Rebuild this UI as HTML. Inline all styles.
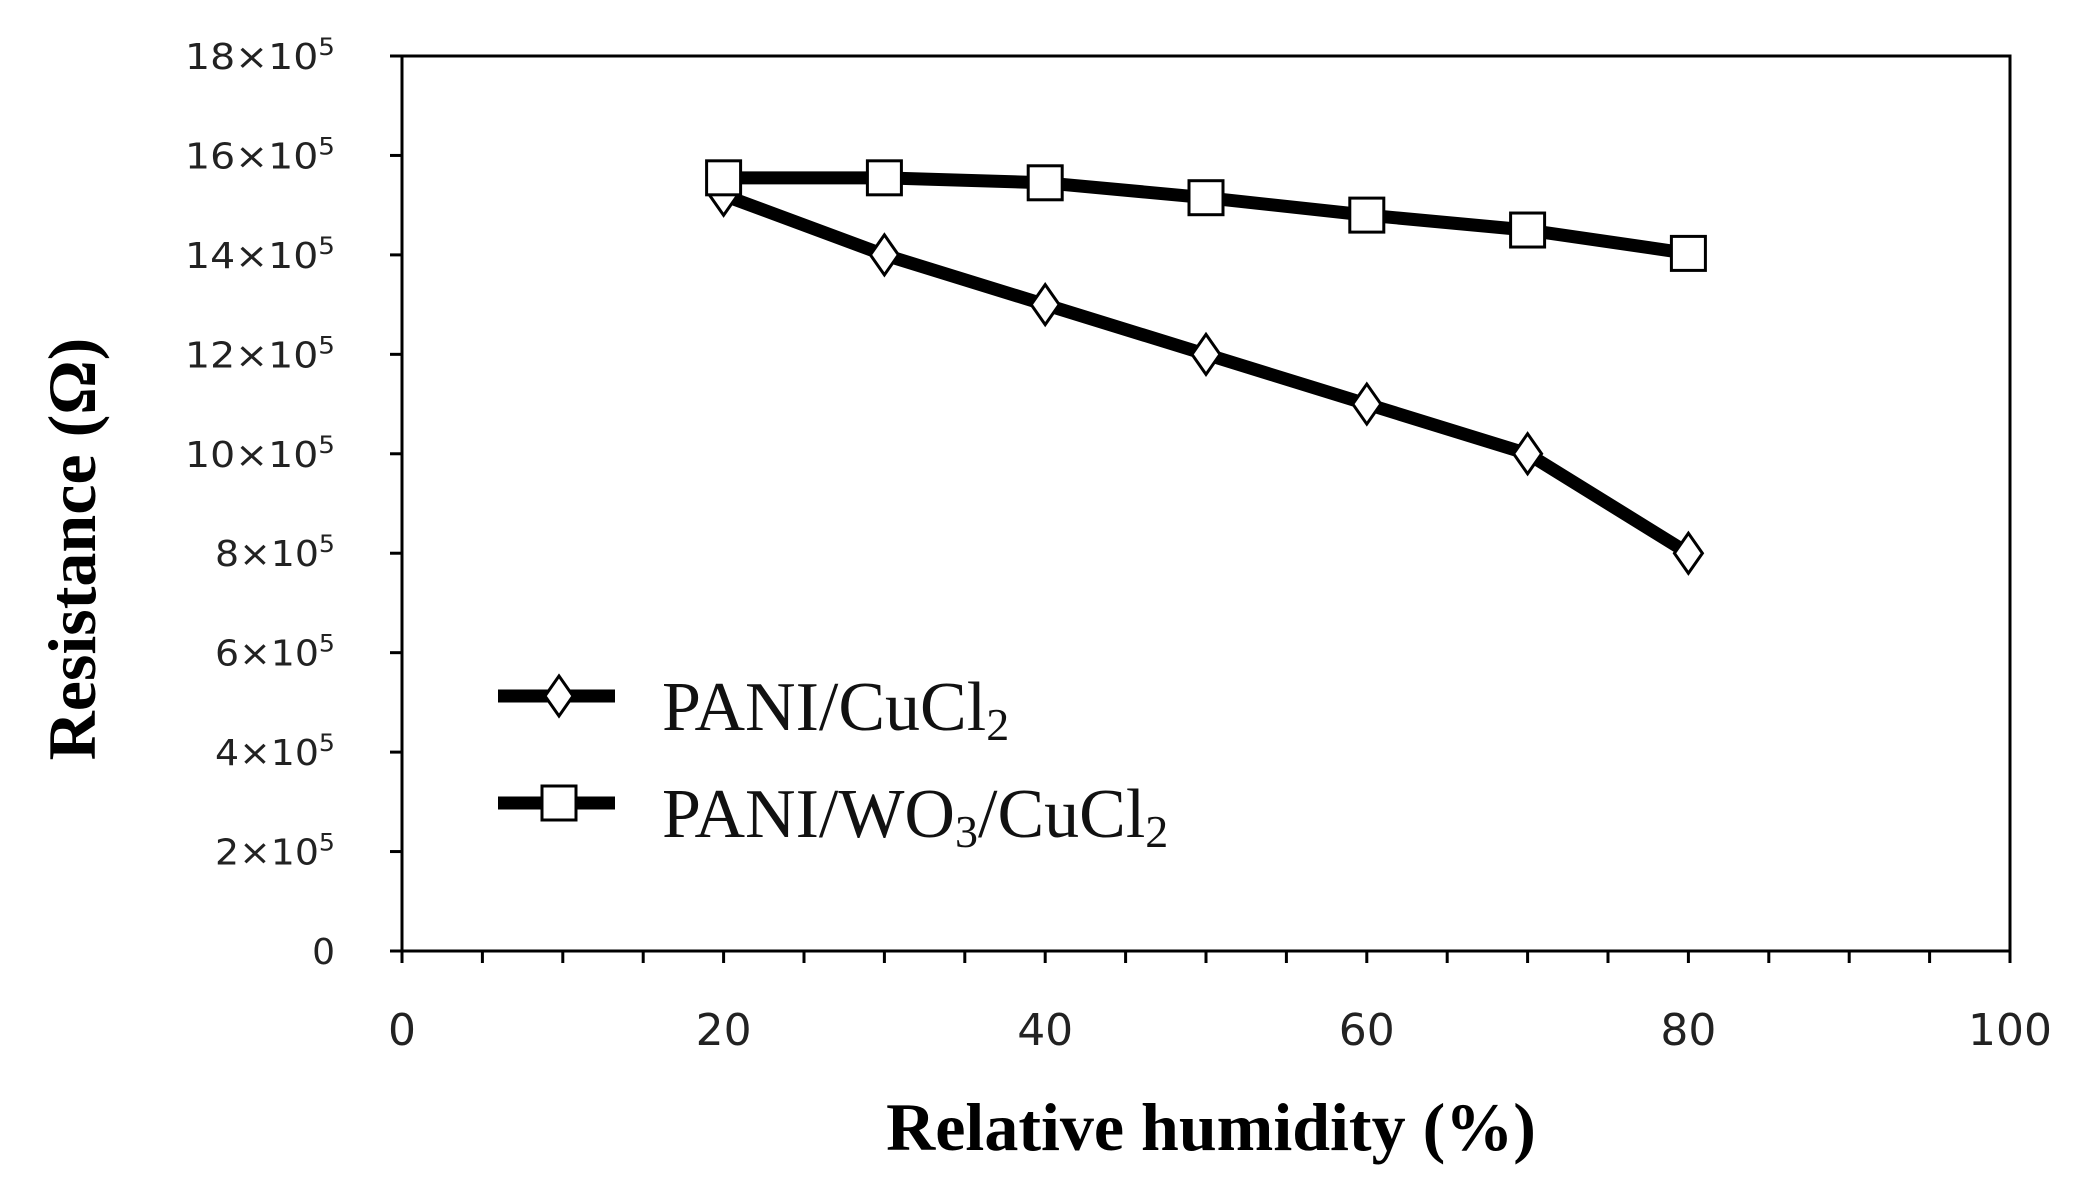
<!DOCTYPE html>
<html><head><meta charset="utf-8"><style>body{margin:0;background:#fff}svg{display:block}</style></head>
<body>
<svg id="c" width="2085" height="1182" xmlns="http://www.w3.org/2000/svg"></svg>
<script>
const categories=[20,30,40,50,60,70,80];
const cuCl2Values=[15.2,14,13,12,11,10,8];
const wo3Values=[15.55,15.55,15.45,15.15,14.8,14.5,14.03];
const yTicks=[0,2,4,6,8,10,12,14,16,18];
const xTicks=[0,20,40,60,80,100];
const NS='http://www.w3.org/2000/svg';
const svg=document.getElementById('c');
const L=402,R=2010,T=56,B=951;
const xs=v=>L+(v/100)*(R-L);
const ys=v=>B-(v/18)*(B-T);
function mk(t,a,p){const e=document.createElementNS(NS,t);for(const k in a)e.setAttribute(k,a[k]);(p||svg).appendChild(e);return e;}
let e=mk('rect',{x:L,y:T,width:R-L,height:B-T,fill:'none',stroke:'#000','stroke-width':3});


yTicks.forEach(v=>{
 let t=mk('line',{x1:L-12,x2:L,y1:ys(v),y2:ys(v),stroke:'#000','stroke-width':3});
 
 
 let tx=mk('text',{x:335,y:ys(v)+13,'text-anchor':'end','font-family':'DejaVu Sans, sans-serif','font-size':36,fill:'#222',textLength:v===0?null:(v<10?120:150),lengthAdjust:'spacingAndGlyphs'});
 if(v===0)tx.removeAttribute('textLength');
 
 
 if(v===0)tx.textContent='0';else{tx.textContent=v+'×10';const s=mk('tspan',{dy:-14,'font-size':24},tx);s.textContent='5';}
});
for(let v=0;v<=100;v+=5){
 let t=mk('line',{x1:xs(v),x2:xs(v),y1:B,y2:B+12,stroke:'#000','stroke-width':3});
 
 
}
xTicks.forEach(v=>{
 let tx=mk('text',{x:xs(v),y:1045,'text-anchor':'middle','font-family':'DejaVu Sans, sans-serif','font-size':44,fill:'#222'});
 
 
 tx.textContent=v;
});
function series(vals,name){
 let p=mk('polyline',{points:categories.map((c,i)=>xs(c)+','+ys(vals[i])).join(' '),fill:'none',stroke:'#000','stroke-width':13,'stroke-linejoin':'round'});
 
 
}
function diamond(x,y){return mk('polygon',{points:`${x},${y-20} ${x+14},${y} ${x},${y+20} ${x-14},${y}`,fill:'#fff',stroke:'#000','stroke-width':3});}
function square(x,y){return mk('rect',{x:x-17,y:y-17,width:34,height:34,fill:'#fff',stroke:'#000','stroke-width':3});}
series(cuCl2Values,'pani-cucl2');
series(wo3Values,'pani-wo3-cucl2');
cuCl2Values.forEach((v,i)=>{const m=diamond(xs(categories[i]),ys(v));
 
 });
wo3Values.forEach((v,i)=>{const m=square(xs(categories[i]),ys(v));
 
 });
[[696,'PANI/CuCl','2',diamond],[803,'PANI/WO','3',square]].forEach((d,i)=>{
 let l=mk('line',{x1:498,x2:615,y1:d[0],y2:d[0],stroke:'#000','stroke-width':13});
 
 
 let m=d[3](559,d[0]);
 
 
 let t=mk('text',{x:662,y:d[0]+34,'font-family':'Liberation Serif, serif','font-size':70,fill:'#111'});
 
 
 t.appendChild(document.createTextNode(d[1]));
 let s=mk('tspan',{'font-size':46,dy:10},t);s.textContent=d[2];
 if(i===1){let a=mk('tspan',{dy:-10},t);a.textContent='/CuCl';let b=mk('tspan',{'font-size':46,dy:10},t);b.textContent='2';}
});
let xt=mk('text',{x:1211,y:1150,'text-anchor':'middle','font-family':'Liberation Serif, serif','font-size':68,'font-weight':'bold'});


xt.textContent='Relative humidity (%)';
let yt=mk('text',{x:0,y:0,'text-anchor':'middle','font-family':'Liberation Serif, serif','font-size':68,'font-weight':'bold',transform:'translate(95,549) rotate(-90)'});


yt.textContent='Resistance (Ω)';
</script>
</body></html>
